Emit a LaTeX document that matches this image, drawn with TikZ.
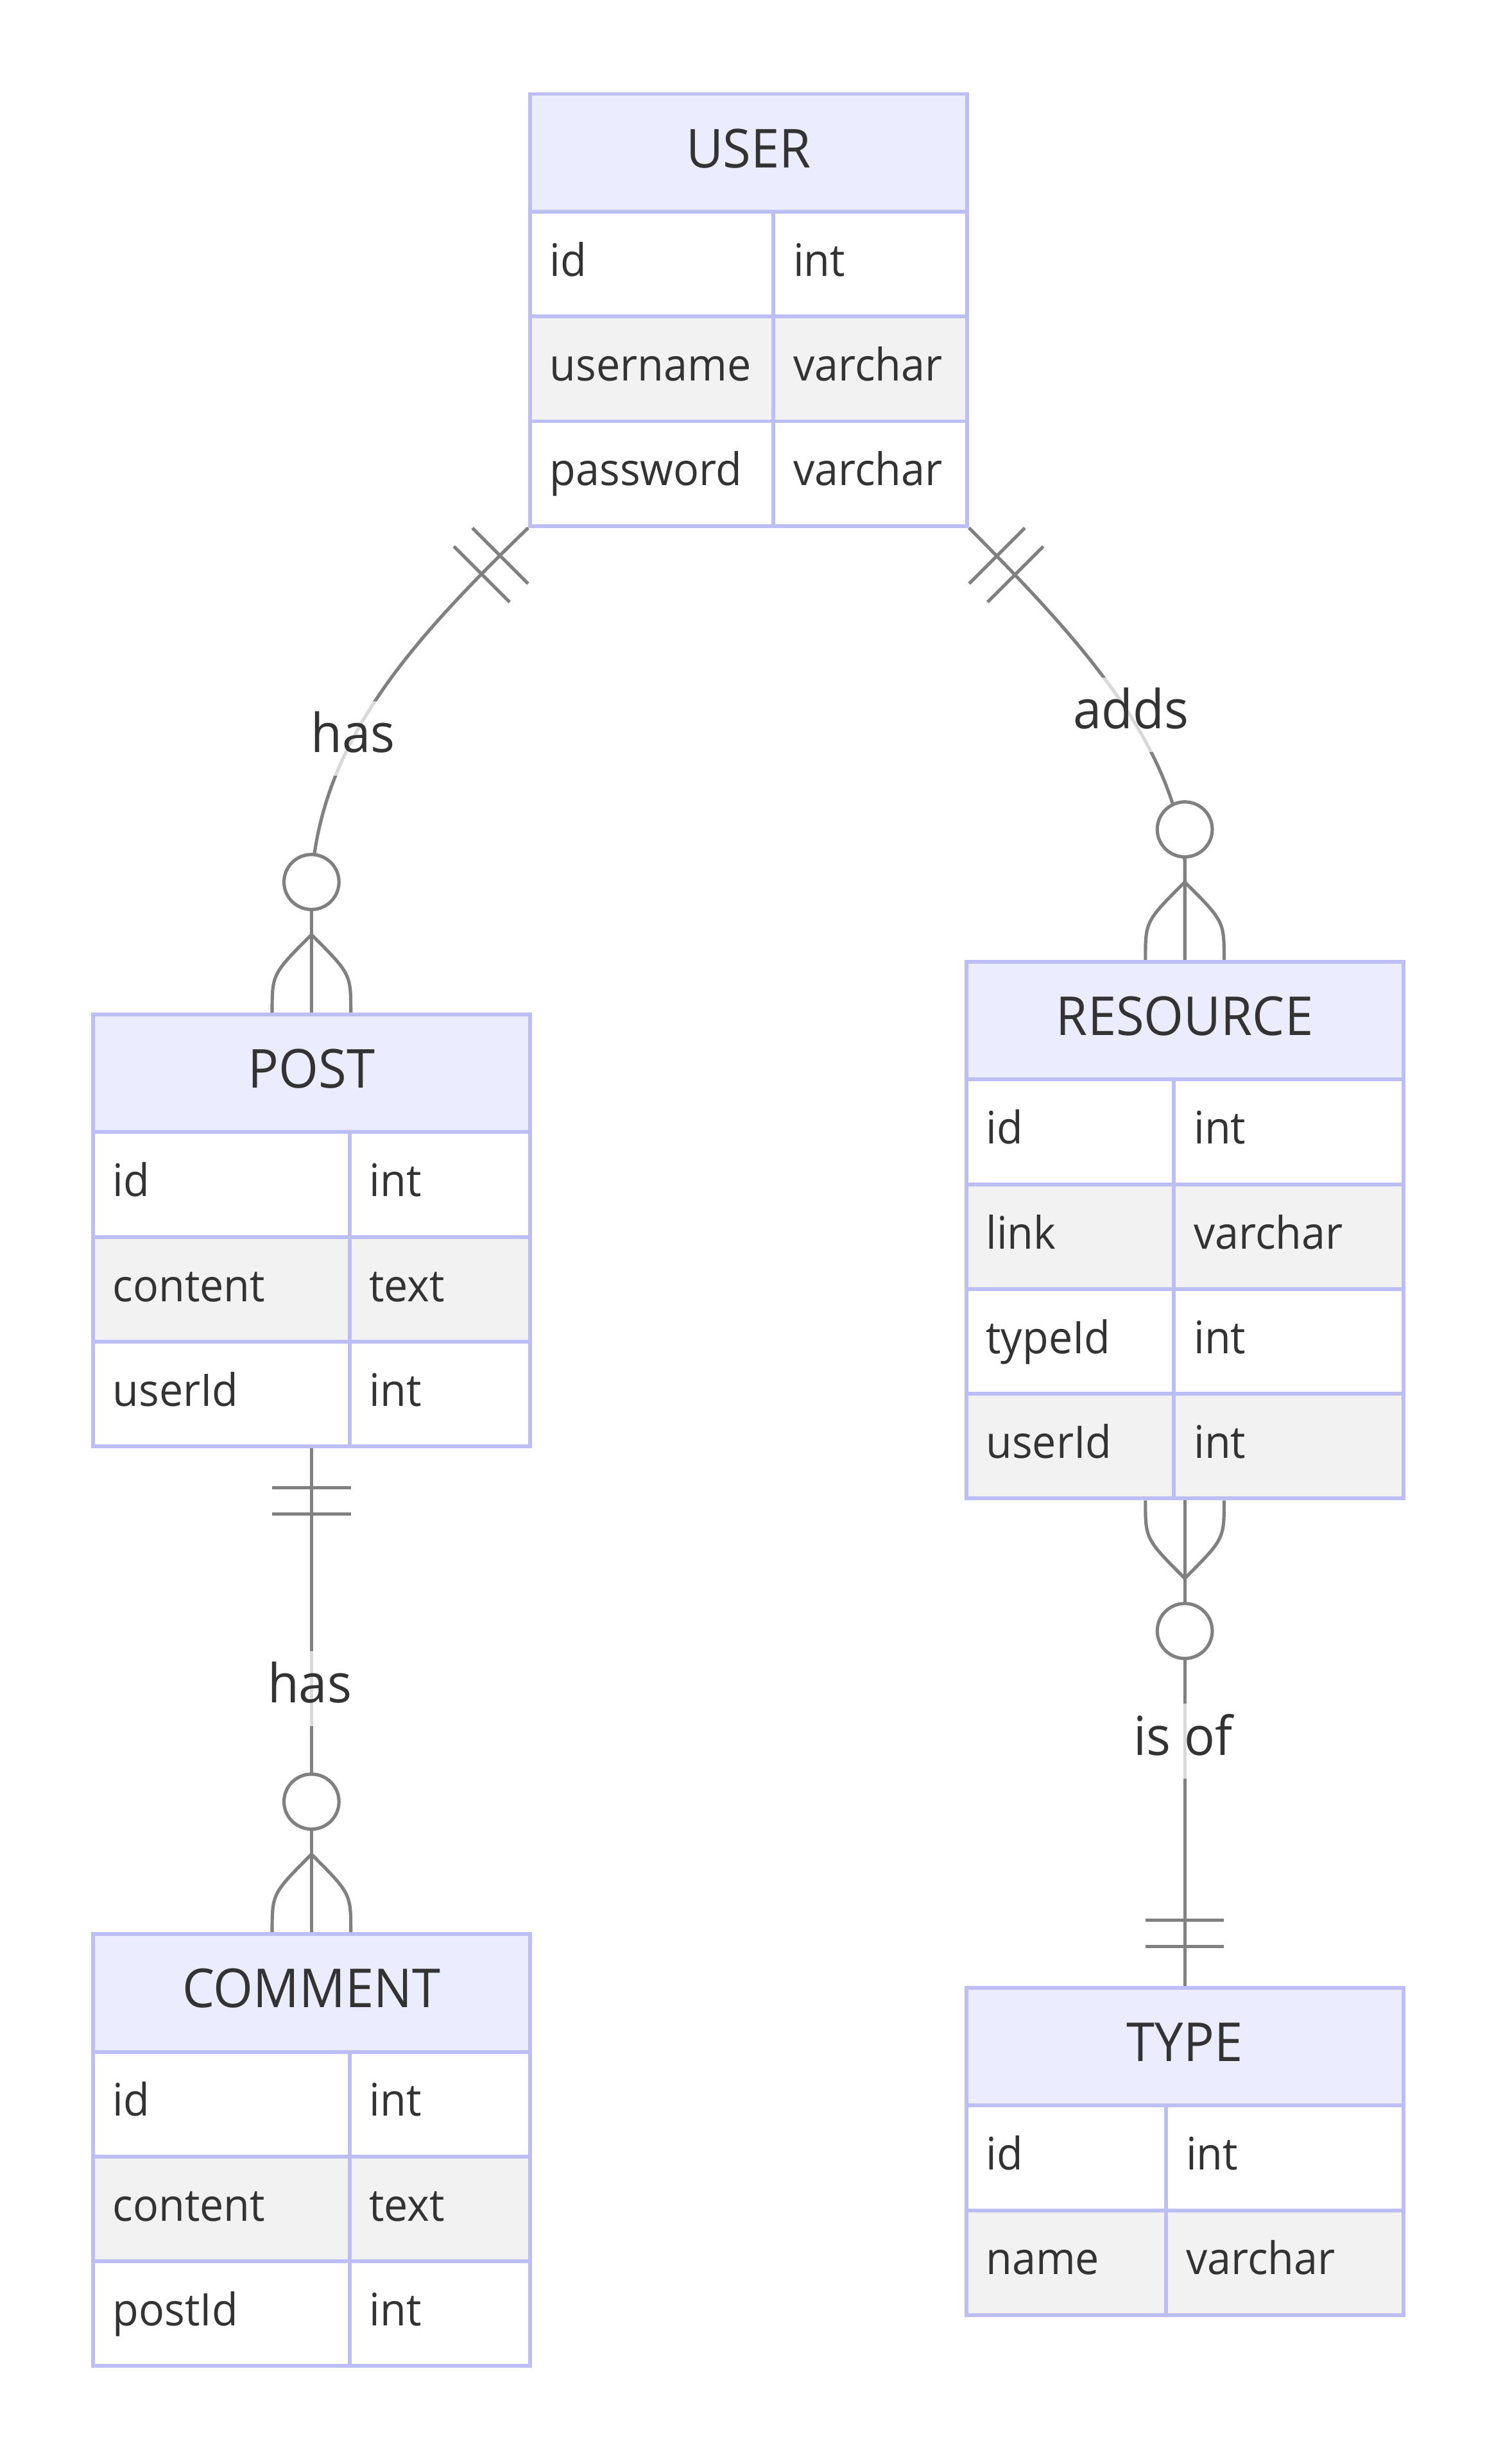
\documentclass[tikz,border=0pt]{standalone}
\usepackage{fontspec}
\usetikzlibrary{calc}
\newfontfamily\erfont{Open Sans}[FakeStretch=0.95]
\newcommand\namefont{\erfont\fontsize{34}{40}\selectfont}
\newcommand\attrfont{\erfont\fontsize{28.4}{34}\selectfont}
\definecolor{erborder}{RGB}{190,190,247}
\definecolor{erhead}{RGB}{236,236,255}
\definecolor{ereven}{RGB}{242,242,242}
\definecolor{ertext}{RGB}{51,51,51}
\definecolor{relgray}{RGB}{128,128,128}
\tikzset{
  hdr/.style={draw=erborder, fill=erhead, line width=2.4pt, inner sep=0pt,
    minimum height=74.5pt, anchor=north west, font=\namefont, text=ertext,
    text height=18.6pt, text depth=0pt},
  rowodd/.style={draw=erborder, fill=white, line width=2.4pt, inner sep=0pt,
    minimum height=66.3pt, anchor=north west},
  roweven/.style={rowodd, fill=ereven},
  attr/.style={anchor=base west, inner sep=0pt, font=\attrfont, text=ertext},
  rel/.style={draw=relgray, line width=2.1pt},
  lbl/.style={anchor=base, fill=white, fill opacity=0.7, text opacity=1,
    inner xsep=2pt, inner ysep=0pt, text height=32.5pt, text depth=14.8pt,
    font=\namefont, text=ertext},
  zeromany/.pic={
    \draw[rel] (0,-82.6) -- (0,0);
    \draw[rel] (0,-49.3) .. controls (-24.9,-24.4) .. (-24.9,0);
    \draw[rel] (0,-49.3) .. controls (24.9,-24.4) .. (24.9,0);
    \draw[rel, fill=white] (0,-82.6) circle[radius=17.4pt];
  },
  onlyone/.pic={
    \draw[rel] (-24.9,-25) -- (24.9,-25);
    \draw[rel] (-24.9,-41.5) -- (24.9,-41.5);
  }
}
\begin{document}
\begin{tikzpicture}[x=1pt,y=-1pt]
\useasboundingbox (0,0) rectangle (945,1559.4);
\fill[white] (0,0) rectangle (945,1559.4);

% ---------- USER ----------
\node[hdr, minimum width=276.6pt] (user) at (334.2,58.3) {USER};
\node[rowodd,  minimum width=154.1pt] (user-r1k) at (334.2,132.8) {};
\node[rowodd,  minimum width=122.5pt] (user-r1t) at (488.3,132.8) {};
\node[roweven, minimum width=154.1pt] (user-r2k) at (334.2,199.1) {};
\node[roweven, minimum width=122.5pt] (user-r2t) at (488.3,199.1) {};
\node[rowodd,  minimum width=154.1pt] (user-r3k) at (334.2,265.4) {};
\node[rowodd,  minimum width=122.5pt] (user-r3t) at (488.3,265.4) {};
\node[attr] (user-a1) at ($(user-r1k.west)+(13.5,7.6)$) {id};
\node[attr] (user-b1) at ($(user-r1t.west)+(13.5,7.6)$) {int};
\node[attr] (user-a2) at ($(user-r2k.west)+(13.5,7.6)$) {username};
\node[attr] (user-b2) at ($(user-r2t.west)+(13.5,7.6)$) {varchar};
\node[attr] (user-a3) at ($(user-r3k.west)+(13.5,7.6)$) {password};
\node[attr] (user-b3) at ($(user-r3t.west)+(13.5,7.6)$) {varchar};

% ---------- POST ----------
\node[hdr, minimum width=276.6pt] (post) at (57.6,640.8) {POST};
\node[rowodd,  minimum width=162.4pt] (post-r1k) at (57.6,715.3) {};
\node[rowodd,  minimum width=114.2pt] (post-r1t) at (220.0,715.3) {};
\node[roweven, minimum width=162.4pt] (post-r2k) at (57.6,781.6) {};
\node[roweven, minimum width=114.2pt] (post-r2t) at (220.0,781.6) {};
\node[rowodd,  minimum width=162.4pt] (post-r3k) at (57.6,847.9) {};
\node[rowodd,  minimum width=114.2pt] (post-r3t) at (220.0,847.9) {};
\node[attr] (post-a1) at ($(post-r1k.west)+(13.5,7.6)$) {id};
\node[attr] (post-b1) at ($(post-r1t.west)+(13.5,7.6)$) {int};
\node[attr] (post-a2) at ($(post-r2k.west)+(13.5,7.6)$) {content};
\node[attr] (post-b2) at ($(post-r2t.west)+(13.5,7.6)$) {text};
\node[attr] (post-a3) at ($(post-r3k.west)+(13.5,7.6)$) {userId};
\node[attr] (post-b3) at ($(post-r3t.west)+(13.5,7.6)$) {int};

% ---------- COMMENT ----------
\node[hdr, minimum width=276.6pt] (comment) at (57.6,1222.8) {COMMENT};
\node[rowodd,  minimum width=162.4pt] (comment-r1k) at (57.6,1297.3) {};
\node[rowodd,  minimum width=114.2pt] (comment-r1t) at (220.0,1297.3) {};
\node[roweven, minimum width=162.4pt] (comment-r2k) at (57.6,1363.6) {};
\node[roweven, minimum width=114.2pt] (comment-r2t) at (220.0,1363.6) {};
\node[rowodd,  minimum width=162.4pt] (comment-r3k) at (57.6,1429.9) {};
\node[rowodd,  minimum width=114.2pt] (comment-r3t) at (220.0,1429.9) {};
\node[attr] (comment-a1) at ($(comment-r1k.west)+(13.5,7.6)$) {id};
\node[attr] (comment-b1) at ($(comment-r1t.west)+(13.5,7.6)$) {int};
\node[attr] (comment-a2) at ($(comment-r2k.west)+(13.5,7.6)$) {content};
\node[attr] (comment-b2) at ($(comment-r2t.west)+(13.5,7.6)$) {text};
\node[attr] (comment-a3) at ($(comment-r3k.west)+(13.5,7.6)$) {postId};
\node[attr] (comment-b3) at ($(comment-r3t.west)+(13.5,7.6)$) {int};

% ---------- RESOURCE ----------
\node[hdr, minimum width=276.6pt] (resource) at (610.2,607.5) {RESOURCE};
\node[rowodd,  minimum width=131.5pt] (res-r1k) at (610.2,682.0) {};
\node[rowodd,  minimum width=145.1pt] (res-r1t) at (741.7,682.0) {};
\node[roweven, minimum width=131.5pt] (res-r2k) at (610.2,748.3) {};
\node[roweven, minimum width=145.1pt] (res-r2t) at (741.7,748.3) {};
\node[rowodd,  minimum width=131.5pt] (res-r3k) at (610.2,814.6) {};
\node[rowodd,  minimum width=145.1pt] (res-r3t) at (741.7,814.6) {};
\node[roweven, minimum width=131.5pt] (res-r4k) at (610.2,880.9) {};
\node[roweven, minimum width=145.1pt] (res-r4t) at (741.7,880.9) {};
\node[attr] (res-a1) at ($(res-r1k.west)+(13.5,7.6)$) {id};
\node[attr] (res-b1) at ($(res-r1t.west)+(13.5,7.6)$) {int};
\node[attr] (res-a2) at ($(res-r2k.west)+(13.5,7.6)$) {link};
\node[attr] (res-b2) at ($(res-r2t.west)+(13.5,7.6)$) {varchar};
\node[attr] (res-a3) at ($(res-r3k.west)+(13.5,7.6)$) {typeId};
\node[attr] (res-b3) at ($(res-r3t.west)+(13.5,7.6)$) {int};
\node[attr] (res-a4) at ($(res-r4k.west)+(13.5,7.6)$) {userId};
\node[attr] (res-b4) at ($(res-r4t.west)+(13.5,7.6)$) {int};

% ---------- TYPE ----------
\node[hdr, minimum width=276.6pt] (type) at (610.2,1256.8) {TYPE};
\node[rowodd,  minimum width=126.6pt] (type-r1k) at (610.2,1331.3) {};
\node[rowodd,  minimum width=150.0pt] (type-r1t) at (736.8,1331.3) {};
\node[roweven, minimum width=126.6pt] (type-r2k) at (610.2,1397.6) {};
\node[roweven, minimum width=150.0pt] (type-r2t) at (736.8,1397.6) {};
\node[attr] (type-a1) at ($(type-r1k.west)+(13.5,7.6)$) {id};
\node[attr] (type-b1) at ($(type-r1t.west)+(13.5,7.6)$) {int};
\node[attr] (type-a2) at ($(type-r2k.west)+(13.5,7.6)$) {name};
\node[attr] (type-b2) at ($(type-r2t.west)+(13.5,7.6)$) {varchar};

% ---------- anchor points ----------
\coordinate (post-bot) at (post.north |- post-r3k.south);
\coordinate (res-bot) at (resource.north |- res-r4k.south);

% ---------- connectors ----------
\draw[rel] (user-r3k.south west) .. controls (259.2,406.7) and (202.6,470) .. ($(post.north)+(0,-82.6)$) -- (post.north);
\draw[rel] (user-r3t.south east) .. controls (685.4,406.7) and (742,470) .. ($(resource.north)+(0,-62.5)$) -- (resource.north);
\draw[rel] (post-bot) -- (comment.north);
\draw[rel] (res-bot) -- (type.north);

% ---------- labels ----------
\node[lbl] (lab-has1) at (223.4,476.3) {has};
\node[lbl] (lab-adds) at (715.6,461.2) {adds};
\node[lbl] (lab-has2) at (196.0,1077.4) {has};
\node[lbl] (lab-isof) at (748.5,1110.7) {is of};

% ---------- cardinality marks ----------
\pic[rotate=135]  at (user-r3k.south west) {onlyone};
\pic[rotate=-135] at (user-r3t.south east) {onlyone};
\pic at (post.north) {zeromany};
\pic at (resource.north) {zeromany};
\pic[rotate=180] at (post-bot) {onlyone};
\pic at (comment.north) {zeromany};
\pic[rotate=180] at (res-bot) {zeromany};
\pic at (type.north) {onlyone};
\end{tikzpicture}
\end{document}
